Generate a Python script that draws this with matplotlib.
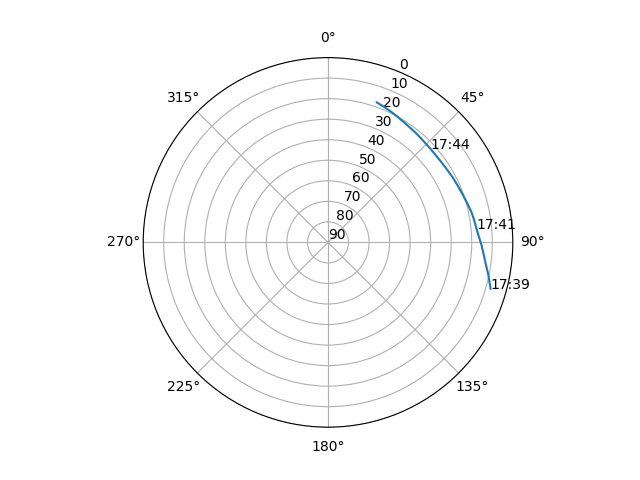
import numpy as np
import matplotlib
matplotlib.use("Agg")
import matplotlib.pyplot as plt

# satellite pass: azimuth (deg) and elevation (deg)
azimuth = [105.9, 101.5, 97.7, 94.3, 91.1, 88.0, 84.7, 81.4, 78.1, 74.5, 70.8,
           66.7, 62.5, 59.0, 55.5, 51.5, 47.5, 43.3, 39.1, 35.5, 32.0, 28.6,
           25.3, 22.2, 19.2]
elevation = [7.7, 10.3, 12.5, 14.0, 15.2, 16.4, 17.4, 18.0, 18.6, 19.5, 20.3,
             21.0, 21.5, 22.0, 22.3, 22.5, 22.4, 22.2, 21.7, 21.3, 20.7, 20.0,
             19.2, 18.5, 17.8]

# which points get a time label
label_idx = [0, 6, 16]
label_times = ["17:39", "17:41", "17:44"]

fig = plt.figure(figsize=(6.4, 4.8), dpi=100)
ax = fig.add_subplot(111, projection="polar")
ax.set_theta_zero_location("N")
ax.set_theta_direction(-1)

theta = np.radians(azimuth)
ax.plot(theta, elevation)

for i, t in zip(label_idx, label_times):
    ax.text(theta[i], elevation[i], t)

# zenith in the middle, horizon at the edge
ax.set_ylim(90, 0)
ax.set_yticks(range(0, 91, 10))

fig.savefig("out.png")
